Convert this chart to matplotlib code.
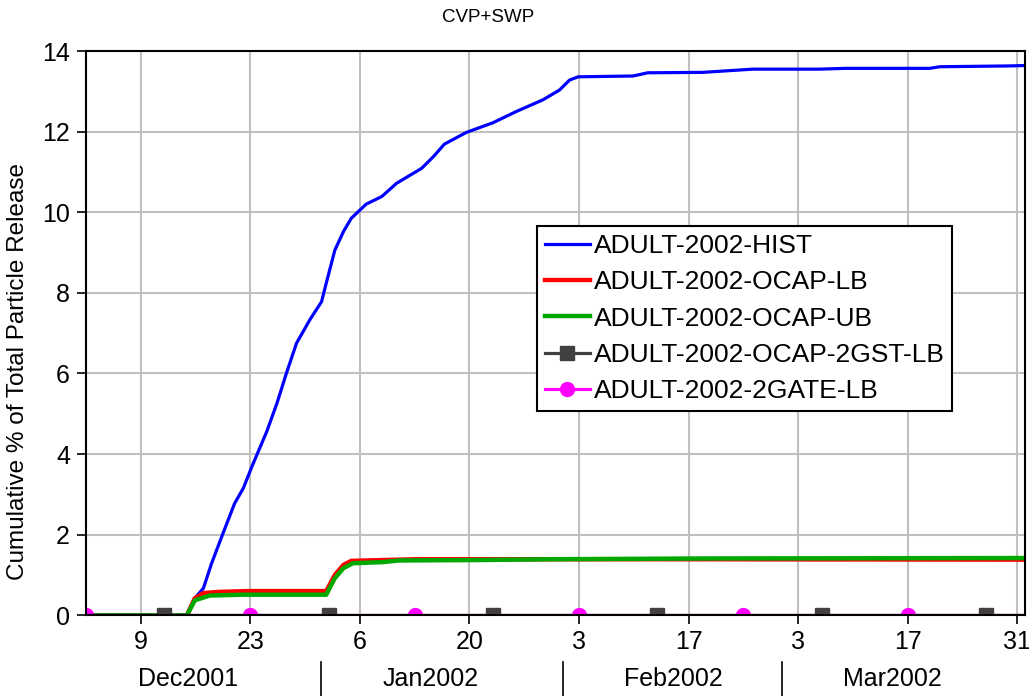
import numpy as np
import pandas as pd
import matplotlib
matplotlib.use("Agg")
import matplotlib.pyplot as plt
import matplotlib.dates as mdates
import matplotlib.transforms as mtransforms

plt.rcParams['font.family'] = ['Liberation Sans', 'DejaVu Sans']

# ---------- data (days after 2 Dec 2001, cumulative %) ----------
start = pd.Timestamp("2001-12-02")

hist_day = [0, 12.9, 13.9, 15.0, 16.05, 17.5, 19.0, 20.1, 21.2, 23.1, 24.4, 25.6,
            26.9, 28.6, 30.1, 30.7, 31.8, 32.9, 33.9, 35.8, 37.8, 39.7, 42.9, 44.4,
            45.8, 48.6, 52.0, 55.0, 58.4, 60.5, 61.8, 62.9, 69.9, 71.8, 78.8, 85.2,
            93.7, 97.1, 107.8, 109.1, 118.0, 120.1]
hist_val = [0, 0, 0.42, 0.67, 1.29, 2.03, 2.78, 3.15, 3.69, 4.56, 5.26, 6.0,
            6.75, 7.33, 7.78, 8.24, 9.06, 9.52, 9.85, 10.2, 10.39, 10.72, 11.09, 11.38,
            11.69, 11.98, 12.22, 12.50, 12.79, 13.03, 13.28, 13.36, 13.38, 13.46, 13.47, 13.55,
            13.55, 13.57, 13.57, 13.61, 13.63, 13.64]

lb_day = [0, 12.9, 13.9, 15.0, 17.0, 20.9, 30.7, 31.8, 32.9, 33.9, 38.0, 42.2, 80.0, 120.1]
lb_val = [0, 0, 0.42, 0.55, 0.58, 0.60, 0.60, 1.0, 1.25, 1.35, 1.37, 1.39, 1.39, 1.38]

ub_day = [0, 12.9, 13.9, 15.8, 20.0, 30.7, 31.8, 32.9, 34.1, 38.0, 40.0, 50.0, 59.3, 80.0, 120.1]
ub_val = [0, 0, 0.37, 0.49, 0.51, 0.51, 0.92, 1.17, 1.29, 1.32, 1.36, 1.37, 1.39, 1.41, 1.42]

gst_dates = ["2001-12-02", "2001-12-12", "2002-01-02", "2002-01-23", "2002-02-13",
             "2002-03-06", "2002-03-27", "2002-04-01"]
gst_val = [0, 0, 0, 0, 0, 0, 0, 0]

gate_dates = ["2001-12-02", "2001-12-23", "2002-01-13", "2002-02-03", "2002-02-24",
              "2002-03-17", "2002-04-01"]
gate_val = [0, 0, 0, 0, 0, 0, 0]

tick_dates = ["2001-12-09", "2001-12-23", "2002-01-06", "2002-01-20", "2002-02-03",
              "2002-02-17", "2002-03-03", "2002-03-17", "2002-03-31"]
month_labels = ["Dec2001", "Jan2002", "Feb2002", "Mar2002"]
month_mid = ["2001-12-15", "2002-01-15", "2002-02-15", "2002-03-15"]
month_bounds = ["2002-01-01", "2002-02-01", "2002-03-01"]


def to_dates(days):
    return [start + pd.Timedelta(days=d) for d in days]


fig = plt.figure(figsize=(10.29, 6.96), dpi=100)
ax = fig.add_axes([0.0836, 0.116, 0.9125, 0.8107])

ax.plot(to_dates(hist_day), hist_val, color='#0000ff', lw=2.3, label='ADULT-2002-HIST')
ax.plot(to_dates(lb_day), lb_val, color='#ff0000', lw=3.2, label='ADULT-2002-OCAP-LB')
ax.plot(to_dates(ub_day), ub_val, color='#00a800', lw=3.2, label='ADULT-2002-OCAP-UB')
ax.plot(pd.to_datetime(gst_dates), gst_val, color='#404040', lw=2.3, marker='s',
        ms=10, markevery=slice(1, -1), label='ADULT-2002-OCAP-2GST-LB')
ax.plot(pd.to_datetime(gate_dates), gate_val, color='#ff00ff', lw=2.3, marker='o',
        ms=10, markevery=slice(0, -1), label='ADULT-2002-2GATE-LB')

ax.set_xlim(start, pd.Timestamp("2002-04-01"))
ax.set_ylim(0, 14)
ax.set_yticks(range(0, 15, 2))
ax.set_xticks(pd.to_datetime(tick_dates))
ax.xaxis.set_major_formatter(mdates.DateFormatter('%-d'))
ax.tick_params(axis='both', direction='out', length=6.5, width=1.2, labelsize=18)
ax.tick_params(axis='x', pad=4)
ax.tick_params(axis='y', pad=5)
ax.grid(True, color='#c0c0c0', lw=1.5)
ax.set_axisbelow(True)
for s in ax.spines.values():
    s.set_linewidth(1.5)

# month labels and separators
trans = mtransforms.blended_transform_factory(ax.transData, ax.transAxes)
for lab, d in zip(month_labels, month_mid):
    ax.text(pd.Timestamp(d), -0.113, lab, transform=trans, ha='center', va='center',
            fontsize=18)
for d in month_bounds:
    ax.plot([pd.Timestamp(d)] * 2, [-0.083, -0.145], transform=trans, color='black',
            lw=1.2, clip_on=False)

fig.text(488 / 1029, 1 - 18 / 696, 'CVP+SWP', ha='center', va='center', fontsize=13.5)
fig.text(18 / 1029, 1 - 371 / 696, 'Cumulative % of Total Particle Release',
         rotation=90, ha='center', va='center', fontsize=17.5)

leg = ax.legend(loc='upper left', bbox_to_anchor=(0.48, 0.69), fontsize=19,
                frameon=True, fancybox=False, edgecolor='black', framealpha=1,
                handlelength=1.7, handletextpad=0.15, labelspacing=0.47,
                borderpad=0.3, borderaxespad=0)
leg.get_frame().set_linewidth(1.5)

fig.savefig('out.png', dpi=100)
